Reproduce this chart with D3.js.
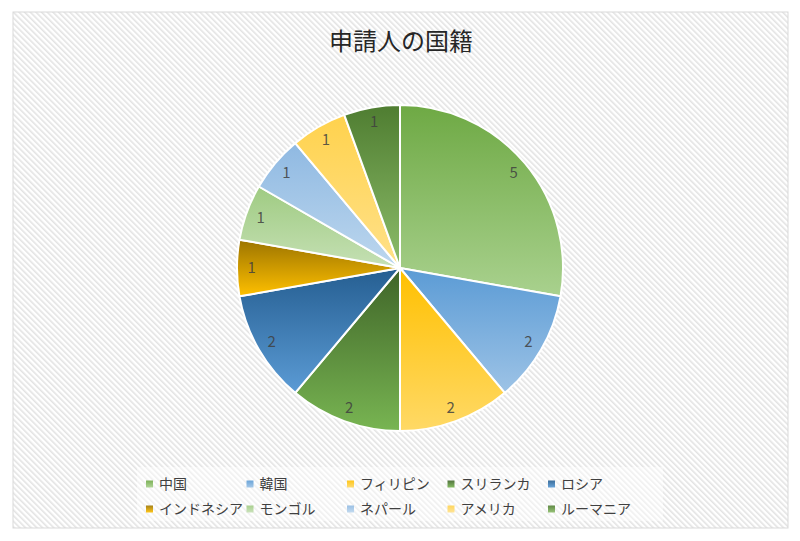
<!DOCTYPE html>
<html>
<head>
<meta charset="utf-8">
<script src="https://cdnjs.cloudflare.com/ajax/libs/d3/7.8.5/d3.min.js"></script>
<style>
  body { margin: 0; background: #fff; }
  text { font-family: "Noto Sans CJK JP", "Noto Sans", sans-serif; }
</style>
</head>
<body>
<div id="chart"></div>
<script>
// data
let countries = ['中国', '韓国', 'フィリピン', 'スリランカ', 'ロシア', 'インドネシア', 'モンゴル', 'ネパール', 'アメリカ', 'ルーマニア'];
let counts = [5, 2, 2, 2, 2, 1, 1, 1, 1, 1];
let topColors = ['#6ea944', '#5b9bd5', '#ffc000', '#3f6428', '#255e91', '#9c7400', '#9fcb82', '#8fb9e2', '#ffd24d', '#4f7d31'];
let bottomColors = ['#a9d18e', '#9dc3e6', '#ffd966', '#78b552', '#5b9bd5', '#ffc000', '#c5e0b4', '#bdd7ee', '#ffe18a', '#8dbd6a'];

let width = 800;
let height = 541;

let svg = d3.select('#chart')
	.append('svg')
	.attr('width', width)
	.attr('height', height);

let defs = svg.append('defs');

// striped background
let pat = defs.append('pattern')
	.attr('id', 'stripes')
	.attr('patternUnits', 'userSpaceOnUse')
	.attr('width', 4)
	.attr('height', 4)
	.attr('patternTransform', 'rotate(-45)');
pat.append('rect').attr('width', 4).attr('height', 4).attr('fill', '#ffffff');
pat.append('rect').attr('width', 1.6).attr('height', 4).attr('fill', '#e3e3e3');

countries.forEach(function(c, i){
	let g = defs.append('linearGradient')
		.attr('id', 'grad' + i)
		.attr('x1', 0).attr('y1', 0)
		.attr('x2', 0).attr('y2', 1);
	g.append('stop').attr('offset', '0%').attr('stop-color', topColors[i]);
	g.append('stop').attr('offset', '100%').attr('stop-color', bottomColors[i]);
});

svg.append('rect')
	.attr('x', 13)
	.attr('y', 12)
	.attr('width', 775)
	.attr('height', 516)
	.attr('fill', 'url(#stripes)')
	.attr('stroke', '#d9d9d9')
	.attr('stroke-width', 1);

// title
svg.append('text')
	.attr('x', 401)
	.attr('y', 50)
	.attr('text-anchor', 'middle')
	.attr('font-size', 24)
	.attr('fill', '#262626')
	.text('申請人の国籍');

// pie
let cx = 400, cy = 268, r = 163;

let pie = d3.pie().sort(null).value(function(d){ return d; });
let arcs = pie(counts);

let arc = d3.arc().innerRadius(0).outerRadius(r);
let labelArc = d3.arc().innerRadius(r * 0.91).outerRadius(r * 0.91);

let pieG = svg.append('g')
	.attr('transform', 'translate(' + cx + ',' + cy + ')');

pieG.selectAll('path')
	.data(arcs)
	.enter()
	.append('path')
	.attr('d', arc)
	.attr('fill', function(d, i){ return 'url(#grad' + i + ')'; })
	.attr('stroke', '#ffffff')
	.attr('stroke-width', 2)
	.attr('stroke-linejoin', 'round');

pieG.selectAll('text')
	.data(arcs)
	.enter()
	.append('text')
	.attr('transform', function(d){ return 'translate(' + labelArc.centroid(d) + ')'; })
	.attr('text-anchor', 'middle')
	.attr('dy', '0.35em')
	.attr('font-size', 15)
	.attr('fill', '#404040')
	.attr('fill-opacity', 0.85)
	.text(function(d){ return d.data; });

// legend
svg.append('rect')
	.attr('x', 137)
	.attr('y', 467)
	.attr('width', 526)
	.attr('height', 54)
	.attr('fill', '#ffffff')
	.attr('fill-opacity', 0.45);

let colX = d3.scalePoint().domain(d3.range(5)).range([146, 548]);
let rowY = d3.scalePoint().domain([0, 1]).range([484, 509]);

let items = svg.append('g')
	.selectAll('g')
	.data(countries)
	.enter()
	.append('g')
	.attr('transform', function(d, i){
		return 'translate(' + colX(i % 5) + ',' + rowY(Math.floor(i / 5)) + ')';
	});

items.append('rect')
	.attr('x', 0)
	.attr('y', -3.5)
	.attr('width', 7)
	.attr('height', 7)
	.attr('fill', function(d, i){ return 'url(#grad' + i + ')'; })
	.attr('opacity', 0.9);

items.append('text')
	.attr('x', 13)
	.attr('dy', '0.36em')
	.attr('font-size', 14)
	.attr('fill', '#404040')
	.text(function(d){ return d; });
</script>
</body>
</html>
